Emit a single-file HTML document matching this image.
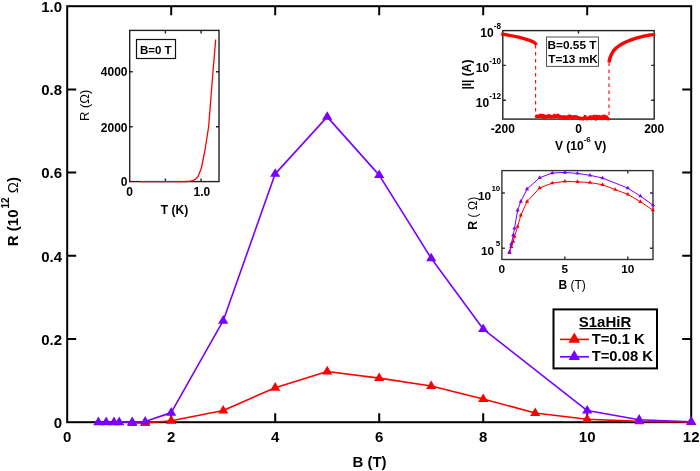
<!DOCTYPE html><html><head><meta charset="utf-8"><style>html,body{margin:0;padding:0;background:#fff;overflow:hidden}svg{display:block;will-change:transform}text{font-family:"Liberation Sans",sans-serif}</style></head><body>
<svg width="700" height="471" viewBox="0 0 700 471">
<rect width="700" height="471" fill="#fff"/>
<g stroke="#000" stroke-width="2" fill="none">
<rect x="67.2" y="6.2" width="624.0" height="416.0"/>
<path d="M171.2 422.2V413.2M171.2 6.2V15.2"/>
<path d="M275.2 422.2V413.2M275.2 6.2V15.2"/>
<path d="M379.2 422.2V413.2M379.2 6.2V15.2"/>
<path d="M483.2 422.2V413.2M483.2 6.2V15.2"/>
<path d="M587.2 422.2V413.2M587.2 6.2V15.2"/>
<path d="M67.2 339.0H76.2M691.2 339.0H682.2"/>
<path d="M67.2 255.8H76.2M691.2 255.8H682.2"/>
<path d="M67.2 172.6H76.2M691.2 172.6H682.2"/>
<path d="M67.2 89.4H76.2M691.2 89.4H682.2"/>
</g>
<path d="M132.20 423.03L145.20 423.03L171.20 420.70L223.20 410.55L275.20 387.67L327.20 371.45L379.20 378.10L431.20 386.01L483.20 398.99L535.20 413.05L587.20 419.29L639.20 421.37L691.20 421.99" fill="none" stroke="#ff0000" stroke-width="1.6" stroke-linejoin="round" />
<path d="M132.20 417.43L137.30 426.03L127.10 426.03Z" fill="#ff0000"/>
<path d="M145.20 417.43L150.30 426.03L140.10 426.03Z" fill="#ff0000"/>
<path d="M171.20 415.10L176.30 423.70L166.10 423.70Z" fill="#ff0000"/>
<path d="M223.20 404.95L228.30 413.55L218.10 413.55Z" fill="#ff0000"/>
<path d="M275.20 382.07L280.30 390.67L270.10 390.67Z" fill="#ff0000"/>
<path d="M327.20 365.85L332.30 374.45L322.10 374.45Z" fill="#ff0000"/>
<path d="M379.20 372.50L384.30 381.10L374.10 381.10Z" fill="#ff0000"/>
<path d="M431.20 380.41L436.30 389.01L426.10 389.01Z" fill="#ff0000"/>
<path d="M483.20 393.39L488.30 401.99L478.10 401.99Z" fill="#ff0000"/>
<path d="M535.20 407.45L540.30 416.05L530.10 416.05Z" fill="#ff0000"/>
<path d="M587.20 413.69L592.30 422.29L582.10 422.29Z" fill="#ff0000"/>
<path d="M639.20 415.77L644.30 424.37L634.10 424.37Z" fill="#ff0000"/>
<path d="M691.20 416.39L696.30 424.99L686.10 424.99Z" fill="#ff0000"/>
<path d="M98.40 422.20L106.20 422.20L114.00 422.20L119.20 422.20L132.20 422.08L145.20 421.49L171.20 412.63L223.20 320.70L275.20 173.85L327.20 116.86L379.20 175.10L431.20 258.30L483.20 329.02L587.20 410.55L639.20 419.70L691.20 421.78" fill="none" stroke="#7a00ff" stroke-width="1.6" stroke-linejoin="round" />
<path d="M98.40 416.60L103.50 425.20L93.30 425.20Z" fill="#7a00ff"/>
<path d="M106.20 416.60L111.30 425.20L101.10 425.20Z" fill="#7a00ff"/>
<path d="M114.00 416.60L119.10 425.20L108.90 425.20Z" fill="#7a00ff"/>
<path d="M119.20 416.60L124.30 425.20L114.10 425.20Z" fill="#7a00ff"/>
<path d="M132.20 416.48L137.30 425.08L127.10 425.08Z" fill="#7a00ff"/>
<path d="M145.20 415.89L150.30 424.49L140.10 424.49Z" fill="#7a00ff"/>
<path d="M171.20 407.03L176.30 415.63L166.10 415.63Z" fill="#7a00ff"/>
<path d="M223.20 315.10L228.30 323.70L218.10 323.70Z" fill="#7a00ff"/>
<path d="M275.20 168.25L280.30 176.85L270.10 176.85Z" fill="#7a00ff"/>
<path d="M327.20 111.26L332.30 119.86L322.10 119.86Z" fill="#7a00ff"/>
<path d="M379.20 169.50L384.30 178.10L374.10 178.10Z" fill="#7a00ff"/>
<path d="M431.20 252.70L436.30 261.30L426.10 261.30Z" fill="#7a00ff"/>
<path d="M483.20 323.42L488.30 332.02L478.10 332.02Z" fill="#7a00ff"/>
<path d="M587.20 404.95L592.30 413.55L582.10 413.55Z" fill="#7a00ff"/>
<path d="M639.20 414.10L644.30 422.70L634.10 422.70Z" fill="#7a00ff"/>
<path d="M691.20 416.18L696.30 424.78L686.10 424.78Z" fill="#7a00ff"/>
<g font-size="15" font-weight="bold" fill="#000">
<text x="62" y="428.0" text-anchor="end">0</text>
<text x="62" y="344.8" text-anchor="end">0.2</text>
<text x="62" y="261.6" text-anchor="end">0.4</text>
<text x="62" y="178.4" text-anchor="end">0.6</text>
<text x="62" y="95.2" text-anchor="end">0.8</text>
<text x="62" y="12.0" text-anchor="end">1.0</text>
<text x="67.2" y="442" text-anchor="middle">0</text>
<text x="171.2" y="442" text-anchor="middle">2</text>
<text x="275.2" y="442" text-anchor="middle">4</text>
<text x="379.2" y="442" text-anchor="middle">6</text>
<text x="483.2" y="442" text-anchor="middle">8</text>
<text x="587.2" y="442" text-anchor="middle">10</text>
<text x="691.2" y="442" text-anchor="middle">12</text>
<text x="369.5" y="466.5" text-anchor="middle">B (T)</text>
<text transform="translate(18.3 211.6) rotate(-90)" text-anchor="middle">R (10<tspan font-size="10" dy="-9.8" dx="1">12</tspan><tspan dy="9.8" font-weight="normal"> Ω</tspan>)</text>
</g>
<rect x="129.7" y="30.4" width="89.3" height="151.2" fill="#fff"/>
<g stroke="#222" stroke-width="1.4" fill="none">
<rect x="129.7" y="30.4" width="89.3" height="151.2"/>
<path d="M165.4 181.6V178.6M165.4 30.4V33.4"/>
<path d="M201.1 181.6V178.6M201.1 30.4V33.4"/>
<path d="M129.7 126.7H132.7M219.0 126.7H216.0"/>
<path d="M129.7 71.8H132.7M219.0 71.8H216.0"/>
</g>
<path d="M140.0 181.6L165.0 181.6L186.0 181.5L190.0 181.2L192.5 180.6L195.3 179.4L198.0 176.5L201.4 168.0L205.0 150.0L208.6 127.0L213.0 71.5L215.7 39.5" fill="none" stroke="#ff0000" stroke-width="1.3" stroke-linejoin="round"/>
<g font-size="12" font-weight="bold" fill="#000">
<text x="127.5" y="185.7" text-anchor="end">0</text>
<text x="127.5" y="131.6" text-anchor="end">2000</text>
<text x="127.5" y="75.9" text-anchor="end">4000</text>
<text x="129.7" y="195.5" text-anchor="middle">0</text>
<text x="201.8" y="195.5" text-anchor="middle">1.0</text>
<text x="174.5" y="213.8" text-anchor="middle">T (K)</text>
</g>
<text transform="translate(88.6 105.4) rotate(-90)" text-anchor="middle" font-size="13">R (Ω)</text>
<rect x="136.5" y="39.5" width="39" height="19" fill="#fff" stroke="#111" stroke-width="1.2"/>
<text x="155.8" y="53.6" text-anchor="middle" font-size="11.5" font-weight="bold">B=0 T</text>
<rect x="502.8" y="30.6" width="151.4" height="88.5" fill="#fff"/>
<g stroke="#222" stroke-width="1.4" fill="none">
<rect x="502.8" y="30.6" width="151.4" height="88.5"/>
<path d="M578.5 119.1V116.1M578.5 30.6V33.6"/>
<path d="M502.8 65.4H505.8M654.2 65.4H651.2"/>
<path d="M502.8 100.2H505.8M654.2 100.2H651.2"/>
</g>
<path d="M501.30 34.00L507.00 34.90L513.00 36.00L518.50 37.20L524.00 38.60L528.00 39.80L531.40 41.10L533.80 42.30L535.50 43.60L536.30 45.00" fill="none" stroke="#ff0000" stroke-width="3.3" stroke-linejoin="round" />
<path d="M608.90 62.50L610.00 58.00L611.60 54.00L613.50 50.80L616.00 48.20L619.50 45.50L623.20 43.30L627.00 41.50L631.20 39.80L635.50 38.40L640.10 37.10L644.00 36.10L648.10 35.30L651.00 34.90L655.20 34.60" fill="none" stroke="#ff0000" stroke-width="3.4" stroke-linejoin="round" />
<path d="M535.6 45V116M609 62.5V116" stroke="#ff0000" stroke-width="1.1" stroke-dasharray="3.4 3.6" fill="none"/>
<path d="M535.50 115.67L536.40 116.41L537.30 115.99L538.20 116.55L539.10 116.60L540.00 115.26L540.90 115.13L541.80 117.11L542.70 115.72L543.60 115.66L544.50 117.49L545.40 116.23L546.30 117.11L547.20 116.24L548.10 116.63L549.00 115.46L549.90 116.62L550.80 117.18L551.70 116.36L552.60 116.88L553.50 116.71L554.40 115.25L555.30 116.92L556.20 116.52L557.10 115.82L558.00 115.17L558.90 117.18L559.80 116.23L560.70 116.83L561.60 117.21L562.50 116.81L563.40 118.01L564.30 116.75L565.20 117.72L566.10 116.87L567.00 118.05L567.90 117.91L568.80 116.03L569.70 116.13L570.60 116.32L571.50 118.12L572.40 116.85L573.30 117.30L574.20 116.52L575.10 117.02L576.00 116.73L576.90 117.05L577.80 117.76L578.70 117.75L579.60 118.71L580.50 118.05L581.40 118.79L582.30 118.57L583.20 118.97L584.10 118.01L585.00 116.49L585.90 118.58L586.80 118.89L587.70 118.71L588.60 117.71L589.50 118.14L590.40 116.63L591.30 118.49L592.20 117.72L593.10 116.85L594.00 116.19L594.90 118.56L595.80 118.97L596.70 116.27L597.60 118.40L598.50 117.23L599.40 116.45L600.30 116.88L601.20 118.31L602.10 118.62L603.00 116.13L603.90 117.84L604.80 116.13L605.70 118.16L606.60 116.99L607.50 118.64L608.40 118.94L609.30 117.52" fill="none" stroke="#ff0000" stroke-width="3.2" stroke-linejoin="round" />
<g font-size="12" font-weight="bold" fill="#000">
<text x="501" y="37.0" text-anchor="end">10<tspan font-size="8.2" dy="-8">-8</tspan></text>
<text x="501" y="71.8" text-anchor="end">10<tspan font-size="8.2" dy="-8">-10</tspan></text>
<text x="501" y="106.6" text-anchor="end">10<tspan font-size="8.2" dy="-8">-12</tspan></text>
<text x="502.8" y="133.3" text-anchor="middle">-200</text>
<text x="578.5" y="133.3" text-anchor="middle">0</text>
<text x="654.2" y="133.3" text-anchor="middle">200</text>
<text x="555" y="149.5">V (10<tspan font-size="8" dy="-8">-6</tspan><tspan dy="8"> V)</tspan></text>
<text transform="translate(471 74.6) rotate(-90)" text-anchor="middle" font-size="12">|I| (A)</text>
</g>
<rect x="546.5" y="37" width="52" height="29.4" fill="#fff" stroke="#555" stroke-width="1"/>
<g font-size="11.8" font-weight="bold" fill="#000">
<text x="547.6" y="49">B=0.55 T</text>
<text x="548.2" y="62.6">T=13 mK</text>
</g>
<rect x="501.9" y="170.6" width="151.1" height="88.9" fill="#fff"/>
<g stroke="#333" stroke-width="1.4" fill="none">
<rect x="501.9" y="170.6" width="151.1" height="88.9"/>
<path d="M564.9 259.5V256.5M564.9 170.6V173.6"/>
<path d="M627.8 259.5V256.5M627.8 170.6V173.6"/>
<path d="M501.9 248.3H504.9M653.0 248.3H650.0"/>
<path d="M501.9 193.0H504.9M653.0 193.0H650.0"/>
</g>
<path d="M509.45 252.72L511.34 246.75L513.23 241.44L514.49 236.47L517.64 226.62L520.79 215.34L527.08 201.52L539.67 188.02L552.27 183.05L564.86 181.39L577.45 181.72L590.04 182.60L602.63 184.71L615.23 189.57L627.82 194.33L640.41 201.74L653.00 210.14" fill="none" stroke="#ff0000" stroke-width="1.0" stroke-linejoin="round" />
<path d="M509.45 250.32L511.53 253.92L507.38 253.92Z" fill="#ff0000"/>
<path d="M511.34 244.35L513.42 247.95L509.27 247.95Z" fill="#ff0000"/>
<path d="M513.23 239.04L515.31 242.64L511.15 242.64Z" fill="#ff0000"/>
<path d="M514.49 234.07L516.57 237.67L512.41 237.67Z" fill="#ff0000"/>
<path d="M517.64 224.22L519.72 227.82L515.56 227.82Z" fill="#ff0000"/>
<path d="M520.79 212.94L522.87 216.54L518.71 216.54Z" fill="#ff0000"/>
<path d="M527.08 199.12L529.16 202.72L525.00 202.72Z" fill="#ff0000"/>
<path d="M539.67 185.62L541.75 189.22L537.60 189.22Z" fill="#ff0000"/>
<path d="M552.27 180.65L554.35 184.25L550.19 184.25Z" fill="#ff0000"/>
<path d="M564.86 178.99L566.94 182.59L562.78 182.59Z" fill="#ff0000"/>
<path d="M577.45 179.32L579.53 182.92L575.37 182.92Z" fill="#ff0000"/>
<path d="M590.04 180.20L592.12 183.80L587.96 183.80Z" fill="#ff0000"/>
<path d="M602.63 182.31L604.71 185.91L600.55 185.91Z" fill="#ff0000"/>
<path d="M615.23 187.17L617.30 190.77L613.15 190.77Z" fill="#ff0000"/>
<path d="M627.82 191.93L629.90 195.53L625.74 195.53Z" fill="#ff0000"/>
<path d="M640.41 199.34L642.49 202.94L638.33 202.94Z" fill="#ff0000"/>
<path d="M653.00 207.74L655.08 211.34L650.92 211.34Z" fill="#ff0000"/>
<path d="M509.45 251.95L511.34 243.99L513.23 235.03L514.49 228.39L517.64 210.25L520.79 201.52L527.08 189.02L539.67 177.74L552.27 172.98L564.86 172.43L577.45 173.42L590.04 175.30L602.63 178.07L627.82 188.13L640.41 196.10L653.00 205.17" fill="none" stroke="#7a00ff" stroke-width="1.0" stroke-linejoin="round" />
<path d="M509.45 249.55L511.53 253.15L507.38 253.15Z" fill="#7a00ff"/>
<path d="M511.34 241.59L513.42 245.19L509.27 245.19Z" fill="#7a00ff"/>
<path d="M513.23 232.63L515.31 236.23L511.15 236.23Z" fill="#7a00ff"/>
<path d="M514.49 225.99L516.57 229.59L512.41 229.59Z" fill="#7a00ff"/>
<path d="M517.64 207.85L519.72 211.45L515.56 211.45Z" fill="#7a00ff"/>
<path d="M520.79 199.12L522.87 202.72L518.71 202.72Z" fill="#7a00ff"/>
<path d="M527.08 186.62L529.16 190.22L525.00 190.22Z" fill="#7a00ff"/>
<path d="M539.67 175.34L541.75 178.94L537.60 178.94Z" fill="#7a00ff"/>
<path d="M552.27 170.58L554.35 174.18L550.19 174.18Z" fill="#7a00ff"/>
<path d="M564.86 170.03L566.94 173.63L562.78 173.63Z" fill="#7a00ff"/>
<path d="M577.45 171.02L579.53 174.62L575.37 174.62Z" fill="#7a00ff"/>
<path d="M590.04 172.90L592.12 176.50L587.96 176.50Z" fill="#7a00ff"/>
<path d="M602.63 175.67L604.71 179.27L600.55 179.27Z" fill="#7a00ff"/>
<path d="M627.82 185.73L629.90 189.33L625.74 189.33Z" fill="#7a00ff"/>
<path d="M640.41 193.70L642.49 197.30L638.33 197.30Z" fill="#7a00ff"/>
<path d="M653.00 202.77L655.08 206.37L650.92 206.37Z" fill="#7a00ff"/>
<g font-size="11.8" font-weight="bold" fill="#000">
<text x="491" y="199.5" text-anchor="end">10</text>
<text x="491.4" y="191.0" font-size="8">10</text>
<text x="494" y="254.8" text-anchor="end">10</text>
<text x="495.8" y="246.3" font-size="8">5</text>
<text x="501.9" y="273.3" text-anchor="middle">0</text>
<text x="564.9" y="273.3" text-anchor="middle">5</text>
<text x="627.8" y="273.3" text-anchor="middle">10</text>
</g>
<text x="558.5" y="289" font-size="12"><tspan font-weight="bold">B</tspan> (T)</text>
<text transform="translate(476.8 213.2) rotate(-90)" text-anchor="middle" font-size="12.3"><tspan font-weight="bold">R</tspan> ( Ω)</text>
<rect x="553.5" y="309.4" width="103.5" height="59" fill="#fff" stroke="#000" stroke-width="2"/>
<g font-size="14.8" font-weight="bold" fill="#000">
<text x="605" y="326.8" text-anchor="middle" font-size="15">S1aHiR</text>
<path d="M579.5 328.6H630.5" stroke="#000" stroke-width="1.2"/>
<text x="591.7" y="344">T=0.1 K</text>
<text x="591.7" y="361">T=0.08 K</text>
</g>
<path d="M560 339.4H589" stroke="#ff0000" stroke-width="1.6"/>
<path d="M574.30 332.60L580.20 342.80L568.40 342.80Z" fill="#ff0000"/>
<path d="M560 356.8H589" stroke="#7a00ff" stroke-width="1.7"/>
<path d="M574.30 349.90L580.00 359.90L568.60 359.90Z" fill="#7a00ff"/>
</svg></body></html>
